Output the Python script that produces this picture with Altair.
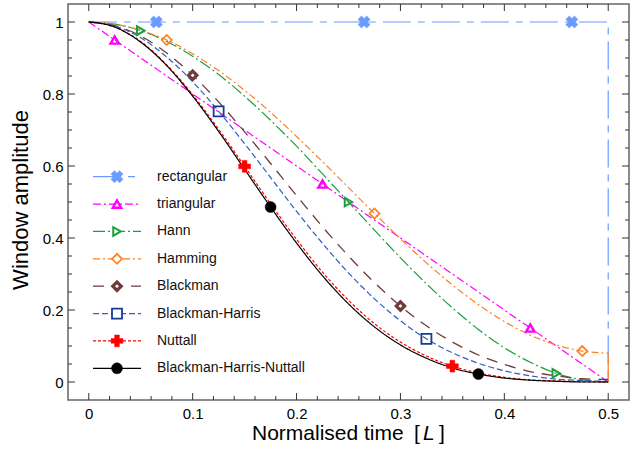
import altair as alt
import pandas as pd

# ---------------- data ----------------
x_grid = [0.0, 0.025, 0.05, 0.075, 0.1, 0.125, 0.15, 0.175, 0.2, 0.225, 0.25,
          0.275, 0.3, 0.325, 0.35, 0.375, 0.4, 0.425, 0.45, 0.475, 0.5]

rect_x = [0.0, 0.5, 0.5]
rect_y = [1.0, 1.0, 0.0]
tri_y = [1.0, 0.95, 0.9, 0.85, 0.8, 0.75, 0.7, 0.65, 0.6, 0.55, 0.5,
         0.45, 0.4, 0.35, 0.3, 0.25, 0.2, 0.15, 0.1, 0.05, 0.0]
hann_y = [1.0, 0.994, 0.976, 0.946, 0.905, 0.854, 0.794, 0.727, 0.655, 0.578, 0.5,
          0.422, 0.345, 0.273, 0.206, 0.146, 0.095, 0.055, 0.024, 0.006, 0.0]
hamming_y = [1.0, 0.994, 0.977, 0.950, 0.912, 0.865, 0.810, 0.749, 0.682, 0.612, 0.54,
             0.468, 0.398, 0.331, 0.270, 0.215, 0.168, 0.130, 0.103, 0.086, 0.08]
hamming_end_x = [0.5, 0.5]
hamming_end_y = [0.08, 0.0]
blackman_y = [1.0, 0.990, 0.961, 0.914, 0.852, 0.778, 0.695, 0.607, 0.518, 0.431, 0.350,
              0.276, 0.211, 0.156, 0.111, 0.075, 0.049, 0.029, 0.017, 0.009, 0.007]
bh_y = [1.0, 0.989, 0.956, 0.903, 0.834, 0.752, 0.662, 0.568, 0.474, 0.385, 0.303,
        0.231, 0.170, 0.120, 0.081, 0.052, 0.031, 0.017, 0.008, 0.004, 0.002]
nuttall_y = [1.0, 0.986, 0.946, 0.881, 0.798, 0.702, 0.599, 0.495, 0.396, 0.305, 0.227,
             0.162, 0.111, 0.072, 0.044, 0.025, 0.013, 0.006, 0.003, 0.001, 0.0]
bhn_y = [1.0, 0.986, 0.944, 0.879, 0.794, 0.696, 0.591, 0.486, 0.386, 0.295, 0.217,
         0.153, 0.103, 0.066, 0.039, 0.022, 0.011, 0.005, 0.002, 0.0, 0.0]

names = ["rectangular", "triangular", "Hann", "Hamming", "Blackman",
         "Blackman-Harris", "Nuttall", "Blackman-Harris-Nuttall"]

mk_x = {
    "rectangular": [0.065, 0.265, 0.465],
    "triangular": [0.025, 0.225, 0.425],
    "Hann": [0.05, 0.25, 0.45],
    "Hamming": [0.075, 0.275, 0.475],
    "Blackman": [0.1, 0.3],
    "Blackman-Harris": [0.125, 0.325],
    "Nuttall": [0.15, 0.35],
    "Blackman-Harris-Nuttall": [0.175, 0.375],
}
mk_y = {
    "rectangular": [1.0, 1.0, 1.0],
    "triangular": [0.95, 0.55, 0.15],
    "Hann": [0.976, 0.5, 0.024],
    "Hamming": [0.950, 0.468, 0.086],
    "Blackman": [0.852, 0.211],
    "Blackman-Harris": [0.752, 0.120],
    "Nuttall": [0.599, 0.044],
    "Blackman-Harris-Nuttall": [0.486, 0.022],
}

x_major = [0.0, 0.1, 0.2, 0.3, 0.4, 0.5]
x_minor = [0.02, 0.04, 0.06, 0.08, 0.12, 0.14, 0.16, 0.18, 0.22, 0.24, 0.26, 0.28,
           0.32, 0.34, 0.36, 0.38, 0.42, 0.44, 0.46, 0.48]
y_major = [0.0, 0.2, 0.4, 0.6, 0.8, 1.0]
y_minor = [0.05, 0.1, 0.15, 0.25, 0.3, 0.35, 0.45, 0.5, 0.55, 0.65, 0.7, 0.75,
           0.85, 0.9, 0.95]

# ---------------- styles ----------------
FONT = "Liberation Sans"
W, H = 561, 396
styles = {
    "rectangular": dict(color="#6a9cff", dash=[28, 7, 7, 7], shape="cross", angle=45,
                        filled=True, size=150, sw=1.2, msw=0.5),
    "triangular": dict(color="#ff00ff", dash=[8, 3, 2, 3], shape="triangle-up", angle=0,
                       filled=False, size=70, sw=1.2, msw=2.4),
    "Hann": dict(color="#1e9e3c", dash=[12, 3, 2, 3], shape="triangle-right", angle=0,
                 filled=False, size=75, sw=1.2, msw=2.0),
    "Hamming": dict(color="#ff7f1e", dash=[7, 3, 2, 3], shape="diamond", angle=0,
                    filled=False, size=100, sw=1.2, msw=1.7),
    "Blackman": dict(color="#6e3b3b", dash=[11, 8], shape="diamond", angle=0,
                     filled=False, size=70, sw=1.3, msw=3.2),
    "Blackman-Harris": dict(color="#2f5fbf", mcolor="#143c96", dash=[6, 3], shape="square",
                            angle=0, filled=False, size=100, sw=1.2, msw=1.8),
    "Nuttall": dict(color="#ff0000", dash=[3, 2], shape="cross", angle=0,
                    filled=True, size=140, sw=1.2, msw=0.5),
    "Blackman-Harris-Nuttall": dict(color="#000000", dash=[1, 0], shape="circle", angle=0,
                                    filled=True, size=120, sw=1.2, msw=0.5),
}

xscale = alt.Scale(domain=[-0.02, 0.52], nice=False, zero=False)
yscale = alt.Scale(domain=[-0.05, 1.05], nice=False, zero=False)
xaxis = alt.Axis(values=x_major, format="~g", ticks=False, tickSize=0, domain=False,
                 grid=False, title=None, labelFont=FONT, labelFontSize=15,
                 labelColor="#000", labelPadding=6)
yaxis = alt.Axis(values=y_major, format="~g", ticks=False, tickSize=0, domain=False,
                 grid=False, title=None, labelFont=FONT, labelFontSize=15,
                 labelColor="#000", labelPadding=5)


def X(f):
    return alt.X(f, type="quantitative", scale=xscale, axis=xaxis)


def Y(f):
    return alt.Y(f, type="quantitative", scale=yscale, axis=yaxis)


layers = []

# tick marks (inward, all four sides)
TICK = "#333"
for vals, ln in ((x_major, 7), (x_minor, 4)):
    d = pd.DataFrame({"v": vals})
    layers.append(alt.Chart(d).mark_rule(color=TICK, strokeWidth=1).encode(
        x=X("v"), y=alt.value(H), y2=alt.value(H - ln)))
    layers.append(alt.Chart(d).mark_rule(color=TICK, strokeWidth=1).encode(
        x=X("v"), y=alt.value(0), y2=alt.value(ln)))
for vals, ln in ((y_major, 7), (y_minor, 4)):
    d = pd.DataFrame({"v": vals})
    layers.append(alt.Chart(d).mark_rule(color=TICK, strokeWidth=1).encode(
        y=Y("v"), x=alt.value(0), x2=alt.value(ln)))
    layers.append(alt.Chart(d).mark_rule(color=TICK, strokeWidth=1).encode(
        y=Y("v"), x=alt.value(W), x2=alt.value(W - ln)))

curves = {
    "rectangular": (rect_x, rect_y, "linear"),
    "triangular": (x_grid, tri_y, "linear"),
    "Hann": (x_grid, hann_y, "monotone"),
    "Hamming": (x_grid, hamming_y, "monotone"),
    "Blackman": (x_grid, blackman_y, "monotone"),
    "Blackman-Harris": (x_grid, bh_y, "monotone"),
    "Nuttall": (x_grid, nuttall_y, "monotone"),
    "Blackman-Harris-Nuttall": (x_grid, bhn_y, "monotone"),
}

for name in names:
    st = styles[name]
    xs, ys, interp = curves[name]
    d = pd.DataFrame({"x": xs, "y": ys})
    layers.append(alt.Chart(d).mark_line(
        color=st["color"], strokeDash=st["dash"], strokeWidth=st["sw"],
        interpolate=interp).encode(x=X("x"), y=Y("y")))
    if name == "Hamming":
        d2 = pd.DataFrame({"x": hamming_end_x, "y": hamming_end_y})
        layers.append(alt.Chart(d2).mark_line(
            color=st["color"], strokeWidth=st["sw"]).encode(x=X("x"), y=Y("y")))

for name in names:
    st = styles[name]
    mc = st.get("mcolor", st["color"])
    d = pd.DataFrame({"x": mk_x[name], "y": mk_y[name]})
    pm = dict(shape=st["shape"], size=st["size"], filled=st["filled"], opacity=1,
              strokeWidth=st["msw"], angle=st["angle"])
    if st["filled"]:
        pm.update(fill=mc, stroke=mc)
    else:
        pm.update(stroke=mc, fill="white", fillOpacity=0 if name != "Blackman" else 1)
    layers.append(alt.Chart(d).mark_point(**pm).encode(x=X("x"), y=Y("y")))

# legend (inside the plot)
LX0, LX1, LXM, LXT = 25, 73, 49, 89
LY0, LDY = 172.7, 27.37
for i, name in enumerate(names):
    st = styles[name]
    mc = st.get("mcolor", st["color"])
    yy = LY0 + LDY * i
    d = pd.DataFrame({"label": [name]})
    layers.append(alt.Chart(d).mark_rule(
        color=st["color"], strokeDash=st["dash"], strokeWidth=st["sw"]).encode(
        x=alt.value(LX0), x2=alt.value(LX1), y=alt.value(yy)))
    pm = dict(shape=st["shape"], size=st["size"], filled=st["filled"], opacity=1,
              strokeWidth=st["msw"], angle=st["angle"])
    if st["filled"]:
        pm.update(fill=mc, stroke=mc)
    else:
        pm.update(stroke=mc, fill="white", fillOpacity=1)
    layers.append(alt.Chart(d).mark_point(**pm).encode(
        x=alt.value(LXM), y=alt.value(yy)))
    layers.append(alt.Chart(d).mark_text(
        align="left", baseline="middle", font=FONT, fontSize=14, color="#111").encode(
        x=alt.value(LXT), y=alt.value(yy), text="label:N"))

# axis titles
def txt(s, x, y, **kw):
    d = pd.DataFrame({"t": [s]})
    base = dict(font=FONT, color="#000")
    base.update(kw)
    return alt.Chart(d).mark_text(**base).encode(
        x=alt.value(x), y=alt.value(y), text="t:N")

layers.append(txt("Normalised time", 184, 436, align="left", baseline="alphabetic", fontSize=21))
layers.append(txt("[", 346, 436, align="left", baseline="alphabetic", fontSize=21))
layers.append(txt("L", 355, 436, align="left", baseline="alphabetic", fontSize=21,
                  fontStyle="italic"))
layers.append(txt("]", 371, 436, align="left", baseline="alphabetic", fontSize=21))
layers.append(txt("Window amplitude", -40, 196, align="center", baseline="alphabetic",
                  fontSize=22, angle=270))

chart = alt.layer(*layers).properties(
    width=W, height=H,
    autosize=alt.AutoSizeParams(type="none"),
    padding={"left": 68, "top": 4, "right": 643 - 68 - W, "bottom": 452 - 4 - H},
    background="white",
).configure_view(stroke="#666", strokeWidth=1.5)

chart.save("out.html", embed_options={"renderer": "svg", "actions": False})
